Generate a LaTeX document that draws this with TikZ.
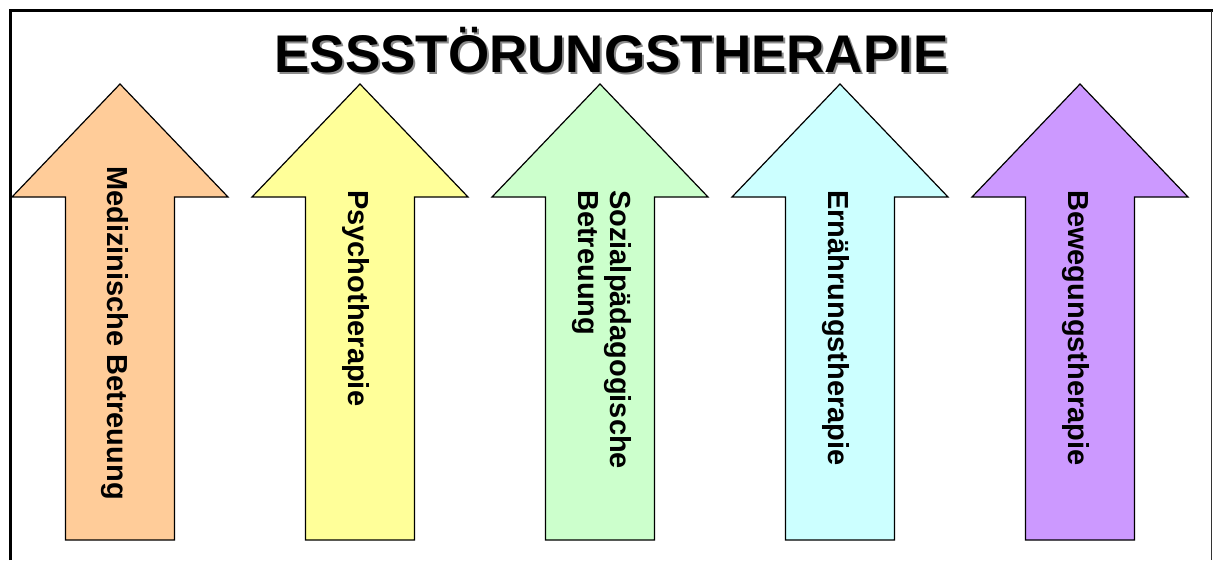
\documentclass[tikz,border=0pt]{standalone}
\usepackage{fontspec}
\setmainfont{Liberation Sans}
\definecolor{arrA}{HTML}{FFCC99}
\definecolor{arrB}{HTML}{FFFF99}
\definecolor{arrC}{HTML}{CCFFCC}
\definecolor{arrD}{HTML}{CCFFFF}
\definecolor{arrE}{HTML}{CC99FF}
\begin{document}
\begin{tikzpicture}[x=1pt,y=-1pt,
  bigarrow/.style={draw=black, line width=1.2pt, line join=miter},
  lbl/.style={font=\bfseries\fontsize{29}{32}\selectfont, rotate=-90, anchor=base west, inner sep=0pt},
  titlefont/.style={font=\bfseries\fontsize{53}{60}\selectfont, anchor=base, inner sep=0pt}
]
\useasboundingbox (0,0) rectangle (1213,560);
\fill[white] (0,0) rectangle (1213,560);
% frame
\draw[line width=3.5pt] (10.5,560) -- (10.5,10.5) -- (1213,10.5);
\draw[line width=1.2pt, black!80] (1211.5,10.5) -- (1211.5,560);
% title
\node[titlefont, text=black!45] (titleshadow) at (613.5,74.5) {ESSSTÖRUNGSTHERAPIE};
\node[titlefont] (title) at (611.5,72) {ESSSTÖRUNGSTHERAPIE};
% arrows
\foreach \c/\col in {120/arrA, 360/arrB, 600/arrC, 840/arrD, 1080/arrE}{
  \filldraw[bigarrow, fill=\col] (\c,84) -- ({\c+108},197) -- ({\c+54.5},197) -- ({\c+54.5},540)
     -- ({\c-54.5},540) -- ({\c-54.5},197) -- ({\c-108},197) -- cycle;
}
% labels
\node[lbl] (med) at (107,166) {Medizinische Betreuung};
\node[lbl] (psy) at (348,190) {Psychotherapie};
\node[lbl] (sozA) at (610,190) {Sozialpädagogische};
\node[lbl] (sozB) at (578,190) {Betreuung};
\node[lbl] (ern) at (828,190) {Ernährungstherapie};
\node[lbl] (bew) at (1068,190) {Bewegungstherapie};
\end{tikzpicture}
\end{document}
